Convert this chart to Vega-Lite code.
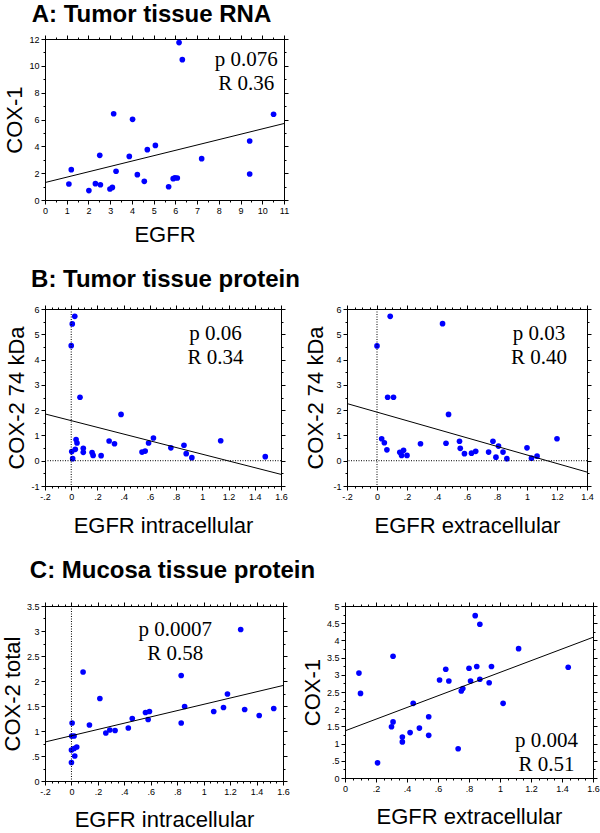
{
  "$schema": "https://vega.github.io/schema/vega-lite/v6.json",
  "background": "white",
  "padding": {"left": 0, "top": 2, "right": 0, "bottom": 0},
  "spacing": 21,
  "config": {
    "view": {"stroke": "black", "strokeWidth": 1},
    "axis": {"grid": false, "domainColor": "black", "domainWidth": 1, "tickColor": "black", "tickWidth": 1,
      "labelFont": "Liberation Sans", "labelFontSize": 9, "labelColor": "black", "labelPadding": 2,
      "labelFlush": false, "labelOverlap": false,
      "titleFont": "Liberation Sans", "titleFontSize": 22, "titleFontWeight": "normal", "titleColor": "black"},
    "axisY": {"titlePadding": 2},
    "title": {"font": "Liberation Sans", "fontSize": 24, "fontWeight": "bold", "color": "black", "anchor": "middle", "frame": "group"}
  },
  "datasets": {
    "a": [
      {"egfr": 1.10, "cox": 1.19}, {"egfr": 1.21, "cox": 2.26}, {"egfr": 2.02, "cox": 0.70}, {"egfr": 2.32, "cox": 1.22},
      {"egfr": 2.55, "cox": 1.14}, {"egfr": 2.52, "cox": 3.33}, {"egfr": 2.99, "cox": 0.82}, {"egfr": 3.10, "cox": 0.94},
      {"egfr": 3.16, "cox": 6.43}, {"egfr": 3.27, "cox": 2.14}, {"egfr": 3.88, "cox": 3.25}, {"egfr": 4.03, "cox": 6.01},
      {"egfr": 4.25, "cox": 1.89}, {"egfr": 4.57, "cox": 1.39}, {"egfr": 4.71, "cox": 3.75}, {"egfr": 5.08, "cox": 4.07},
      {"egfr": 5.69, "cox": 0.99}, {"egfr": 5.90, "cox": 1.59}, {"egfr": 5.98, "cox": 1.66}, {"egfr": 6.09, "cox": 1.64},
      {"egfr": 6.17, "cox": 11.73}, {"egfr": 6.32, "cox": 10.46}, {"egfr": 7.21, "cox": 3.08}, {"egfr": 9.42, "cox": 4.40},
      {"egfr": 9.42, "cox": 1.94}, {"egfr": 10.52, "cox": 6.39}
    ],
    "b1": [
      {"egfr": 0.027, "cox": 5.71}, {"egfr": 0.008, "cox": 5.41}, {"egfr": 0.0, "cox": 4.55}, {"egfr": 0.067, "cox": 2.51},
      {"egfr": 0.38, "cox": 1.83}, {"egfr": 0.037, "cox": 0.84}, {"egfr": 0.044, "cox": 0.70}, {"egfr": 0.031, "cox": 0.45},
      {"egfr": 0.004, "cox": 0.36}, {"egfr": 0.011, "cox": 0.08}, {"egfr": 0.092, "cox": 0.49}, {"egfr": 0.092, "cox": 0.33},
      {"egfr": 0.159, "cox": 0.32}, {"egfr": 0.167, "cox": 0.21}, {"egfr": 0.228, "cox": 0.20}, {"egfr": 0.289, "cox": 0.78},
      {"egfr": 0.33, "cox": 0.67}, {"egfr": 0.54, "cox": 0.34}, {"egfr": 0.564, "cox": 0.38}, {"egfr": 0.59, "cox": 0.70},
      {"egfr": 0.627, "cox": 0.90}, {"egfr": 0.76, "cox": 0.51}, {"egfr": 0.86, "cox": 0.61}, {"egfr": 0.877, "cox": 0.28},
      {"egfr": 0.92, "cox": 0.12}, {"egfr": 1.14, "cox": 0.79}, {"egfr": 1.48, "cox": 0.16}
    ],
    "b2": [
      {"egfr": 0.088, "cox": 5.71}, {"egfr": 0.0, "cox": 4.54}, {"egfr": 0.437, "cox": 5.42}, {"egfr": 0.071, "cox": 2.51},
      {"egfr": 0.11, "cox": 2.51}, {"egfr": 0.477, "cox": 1.83}, {"egfr": 0.031, "cox": 0.87}, {"egfr": 0.049, "cox": 0.71},
      {"egfr": 0.066, "cox": 0.43}, {"egfr": 0.152, "cox": 0.33}, {"egfr": 0.177, "cox": 0.41}, {"egfr": 0.164, "cox": 0.21},
      {"egfr": 0.2, "cox": 0.21}, {"egfr": 0.29, "cox": 0.67}, {"egfr": 0.46, "cox": 0.69}, {"egfr": 0.55, "cox": 0.77},
      {"egfr": 0.555, "cox": 0.49}, {"egfr": 0.583, "cox": 0.28}, {"egfr": 0.63, "cox": 0.30}, {"egfr": 0.658, "cox": 0.37},
      {"egfr": 0.744, "cox": 0.34}, {"egfr": 0.773, "cox": 0.77}, {"egfr": 0.793, "cox": 0.14}, {"egfr": 0.81, "cox": 0.58},
      {"egfr": 0.84, "cox": 0.34}, {"egfr": 0.866, "cox": 0.08}, {"egfr": 1.0, "cox": 0.51}, {"egfr": 1.03, "cox": 0.10},
      {"egfr": 1.067, "cox": 0.18}, {"egfr": 1.2, "cox": 0.87}
    ],
    "c1": [
      {"egfr": 0.005, "cox": 1.16}, {"egfr": 0.002, "cox": 0.90}, {"egfr": 0.02, "cox": 0.90}, {"egfr": 0.0, "cox": 0.62},
      {"egfr": 0.02, "cox": 0.65}, {"egfr": 0.04, "cox": 0.68}, {"egfr": 0.025, "cox": 0.50}, {"egfr": 0.0, "cox": 0.37},
      {"egfr": 0.088, "cox": 2.18}, {"egfr": 0.136, "cox": 1.12}, {"egfr": 0.215, "cox": 1.65}, {"egfr": 0.26, "cox": 0.96},
      {"egfr": 0.29, "cox": 1.02}, {"egfr": 0.33, "cox": 1.01}, {"egfr": 0.43, "cox": 1.06}, {"egfr": 0.46, "cox": 1.25},
      {"egfr": 0.56, "cox": 1.37}, {"egfr": 0.58, "cox": 1.23}, {"egfr": 0.59, "cox": 1.39}, {"egfr": 0.83, "cox": 1.16},
      {"egfr": 0.83, "cox": 2.11}, {"egfr": 0.856, "cox": 1.49}, {"egfr": 1.076, "cox": 1.39}, {"egfr": 1.15, "cox": 1.47},
      {"egfr": 1.18, "cox": 1.74}, {"egfr": 1.28, "cox": 3.03}, {"egfr": 1.31, "cox": 1.43}, {"egfr": 1.42, "cox": 1.31},
      {"egfr": 1.53, "cox": 1.45}
    ],
    "c2": [
      {"egfr": 0.09, "cox": 3.05}, {"egfr": 0.10, "cox": 2.46}, {"egfr": 0.21, "cox": 0.44}, {"egfr": 0.31, "cox": 3.54},
      {"egfr": 0.31, "cox": 1.63}, {"egfr": 0.30, "cox": 1.49}, {"egfr": 0.37, "cox": 1.19}, {"egfr": 0.37, "cox": 1.05},
      {"egfr": 0.42, "cox": 1.32}, {"egfr": 0.44, "cox": 2.17}, {"egfr": 0.48, "cox": 1.45}, {"egfr": 0.54, "cox": 1.78},
      {"egfr": 0.54, "cox": 1.24}, {"egfr": 0.61, "cox": 2.85}, {"egfr": 0.65, "cox": 3.16}, {"egfr": 0.67, "cox": 2.82},
      {"egfr": 0.73, "cox": 0.85}, {"egfr": 0.75, "cox": 2.53}, {"egfr": 0.76, "cox": 2.60}, {"egfr": 0.80, "cox": 3.19},
      {"egfr": 0.81, "cox": 2.82}, {"egfr": 0.84, "cox": 4.72}, {"egfr": 0.85, "cox": 3.24}, {"egfr": 0.87, "cox": 2.87},
      {"egfr": 0.87, "cox": 4.47}, {"egfr": 0.93, "cox": 2.77}, {"egfr": 0.945, "cox": 3.24}, {"egfr": 1.02, "cox": 2.17},
      {"egfr": 1.12, "cox": 3.76}, {"egfr": 1.44, "cox": 3.22}
    ]
  },
  "vconcat": [
    {
      "title": {"text": "A: Tumor tissue RNA", "dx": -13, "offset": 8},
      "width": 239, "height": 161,
      "layer": [
        {
          "data": {"name": "a"},
          "mark": {"type": "circle", "color": "#0000ff", "opacity": 1, "size": 32},
          "encoding": {
            "x": {"field": "egfr", "type": "quantitative", "scale": {"domain": [0, 11], "nice": false, "zero": false},
              "axis": {"orient": "bottom", "title": "EGFR", "titlePadding": 9, "values": [0,0.5,1,1.5,2,2.5,3,3.5,4,4.5,5,5.5,6,6.5,7,7.5,8,8.5,9,9.5,10,10.5,11],
                "labelExpr": "abs(datum.value - round(datum.value)) < 0.001 ? toString(datum.value) : ''",
                "tickSize": {"condition": {"test": "abs(datum.value - round(datum.value)) < 0.001", "value": 4}, "value": 2}}},
            "y": {"field": "cox", "type": "quantitative", "scale": {"domain": [0, 12], "nice": false, "zero": false},
              "axis": {"orient": "left", "title": "COX-1", "values": [0,1,2,3,4,5,6,7,8,9,10,11,12],
                "labelExpr": "abs(datum.value/2 - round(datum.value/2)) < 0.001 ? toString(datum.value) : ''",
                "tickSize": {"condition": {"test": "abs(datum.value/2 - round(datum.value/2)) < 0.001", "value": 4}, "value": 2}}}
          }
        },
        {
          "data": {"values": [{}]},
          "mark": {"type": "text", "font": "Liberation Serif", "fontSize": 21, "lineHeight": 24, "align": "center", "baseline": "middle", "color": "black"},
          "encoding": {
            "x": {"datum": 9.26, "type": "quantitative", "scale": {"domain": [0, 11], "nice": false, "zero": false}, "axis": null},
            "y": {"datum": 10.43, "type": "quantitative", "scale": {"domain": [0, 12], "nice": false, "zero": false}, "axis": null},
            "text": {"value": ["p 0.076", "R 0.36"]}
          }
        },
        {
          "data": {"values": [{"egfr": 0, "cox": 1.3}, {"egfr": 11, "cox": 5.7}]},
          "mark": {"type": "line", "color": "black", "strokeWidth": 1},
          "encoding": {
            "x": {"field": "egfr", "type": "quantitative", "scale": {"domain": [0, 11], "nice": false, "zero": false},
              "axis": {"orient": "top", "title": null, "labels": false, "values": [0,0.5,1,1.5,2,2.5,3,3.5,4,4.5,5,5.5,6,6.5,7,7.5,8,8.5,9,9.5,10,10.5,11],
                "tickSize": {"condition": {"test": "abs(datum.value - round(datum.value)) < 0.001", "value": 4}, "value": 2}}},
            "y": {"field": "cox", "type": "quantitative", "scale": {"domain": [0, 12], "nice": false, "zero": false},
              "axis": {"orient": "right", "title": null, "labels": false, "values": [0,1,2,3,4,5,6,7,8,9,10,11,12],
                "tickSize": {"condition": {"test": "abs(datum.value/2 - round(datum.value/2)) < 0.001", "value": 4}, "value": 2}}}
          }
        }
      ],
      "resolve": {"scale": {"x": "independent", "y": "independent"}}
    },
    {
      "spacing": 66,
      "bounds": "flush",
      "hconcat": [
        {
          "title": {"text": "B: Tumor tissue protein", "dx": 2.5, "offset": 13},
          "width": 236, "height": 177,
          "layer": [
            {
              "data": {"name": "b1"},
              "mark": {"type": "circle", "color": "#0000ff", "opacity": 1, "size": 32},
              "encoding": {
                "x": {"field": "egfr", "type": "quantitative", "scale": {"domain": [-0.2, 1.6], "nice": false, "zero": false},
                  "axis": {"orient": "bottom", "title": "EGFR intracellular", "titlePadding": 14, "values": [-0.2,-0.15,-0.1,-0.05,0,0.05,0.1,0.15,0.2,0.25,0.3,0.35,0.4,0.45,0.5,0.55,0.6,0.65,0.7,0.75,0.8,0.85,0.9,0.95,1,1.05,1.1,1.15,1.2,1.25,1.3,1.35,1.4,1.45,1.5,1.55,1.6],
                    "labelExpr": "abs(datum.value/0.2 - round(datum.value/0.2)) < 0.001 ? (datum.value < 0 ? '-' : '') + replace(toString(abs(datum.value)), '0.', '.') : ''",
                    "tickSize": {"condition": {"test": "abs(datum.value/0.2 - round(datum.value/0.2)) < 0.001", "value": 4}, "value": 2}}},
                "y": {"field": "cox", "type": "quantitative", "scale": {"domain": [-1, 6], "nice": false, "zero": false},
                  "axis": {"orient": "left", "title": "COX-2 74 kDa", "values": [-1,-0.5,0,0.5,1,1.5,2,2.5,3,3.5,4,4.5,5,5.5,6],
                    "labelExpr": "abs(datum.value - round(datum.value)) < 0.001 ? (datum.value < 0 ? '-' : '') + toString(abs(datum.value)) : ''",
                    "tickSize": {"condition": {"test": "abs(datum.value - round(datum.value)) < 0.001", "value": 4}, "value": 2}}}
              }
            },
            {
              "data": {"values": [{}]},
              "mark": {"type": "rule", "color": "black", "strokeWidth": 1, "strokeDash": [1, 1.5]},
              "encoding": {"x": {"datum": 0, "type": "quantitative", "scale": {"domain": [-0.2, 1.6], "nice": false, "zero": false}, "axis": null}}
            },
            {
              "data": {"values": [{}]},
              "mark": {"type": "rule", "color": "black", "strokeWidth": 1, "strokeDash": [1, 1.5]},
              "encoding": {"y": {"datum": 0, "type": "quantitative", "scale": {"domain": [-1, 6], "nice": false, "zero": false}, "axis": null}}
            },
            {
              "data": {"values": [{}]},
              "mark": {"type": "text", "font": "Liberation Serif", "fontSize": 21, "lineHeight": 24, "align": "center", "baseline": "middle", "color": "black"},
              "encoding": {
                "x": {"datum": 1.10, "type": "quantitative", "scale": {"domain": [-0.2, 1.6], "nice": false, "zero": false}, "axis": null},
                "y": {"datum": 5.01, "type": "quantitative", "scale": {"domain": [-1, 6], "nice": false, "zero": false}, "axis": null},
                "text": {"value": ["p 0.06", "R 0.34"]}
              }
            },
            {
              "data": {"values": [{"egfr": -0.2, "cox": 1.85}, {"egfr": 1.6, "cox": -0.54}]},
              "mark": {"type": "line", "color": "black", "strokeWidth": 1},
              "encoding": {
                "x": {"field": "egfr", "type": "quantitative", "scale": {"domain": [-0.2, 1.6], "nice": false, "zero": false},
                  "axis": {"orient": "top", "title": null, "labels": false, "values": [-0.2,-0.15,-0.1,-0.05,0,0.05,0.1,0.15,0.2,0.25,0.3,0.35,0.4,0.45,0.5,0.55,0.6,0.65,0.7,0.75,0.8,0.85,0.9,0.95,1,1.05,1.1,1.15,1.2,1.25,1.3,1.35,1.4,1.45,1.5,1.55,1.6],
                    "tickSize": {"condition": {"test": "abs(datum.value/0.2 - round(datum.value/0.2)) < 0.001", "value": 4}, "value": 2}}},
                "y": {"field": "cox", "type": "quantitative", "scale": {"domain": [-1, 6], "nice": false, "zero": false},
                  "axis": {"orient": "right", "title": null, "labels": false, "values": [-1,-0.5,0,0.5,1,1.5,2,2.5,3,3.5,4,4.5,5,5.5,6],
                    "tickSize": {"condition": {"test": "abs(datum.value - round(datum.value)) < 0.001", "value": 4}, "value": 2}}}
              }
            }
          ],
          "resolve": {"scale": {"x": "independent", "y": "independent"}}
        },
        {
          "width": 240, "height": 177,
          "layer": [
            {
              "data": {"name": "b2"},
              "mark": {"type": "circle", "color": "#0000ff", "opacity": 1, "size": 32},
              "encoding": {
                "x": {"field": "egfr", "type": "quantitative", "scale": {"domain": [-0.2, 1.4], "nice": false, "zero": false},
                  "axis": {"orient": "bottom", "title": "EGFR extracellular", "titlePadding": 14, "values": [-0.2,-0.15,-0.1,-0.05,0,0.05,0.1,0.15,0.2,0.25,0.3,0.35,0.4,0.45,0.5,0.55,0.6,0.65,0.7,0.75,0.8,0.85,0.9,0.95,1,1.05,1.1,1.15,1.2,1.25,1.3,1.35,1.4],
                    "labelExpr": "abs(datum.value/0.2 - round(datum.value/0.2)) < 0.001 ? (datum.value < 0 ? '-' : '') + replace(toString(abs(datum.value)), '0.', '.') : ''",
                    "tickSize": {"condition": {"test": "abs(datum.value/0.2 - round(datum.value/0.2)) < 0.001", "value": 4}, "value": 2}}},
                "y": {"field": "cox", "type": "quantitative", "scale": {"domain": [-1, 6], "nice": false, "zero": false},
                  "axis": {"orient": "left", "title": "COX-2 74 kDa", "titlePadding": 5, "values": [-1,-0.5,0,0.5,1,1.5,2,2.5,3,3.5,4,4.5,5,5.5,6],
                    "labelExpr": "abs(datum.value - round(datum.value)) < 0.001 ? (datum.value < 0 ? '-' : '') + toString(abs(datum.value)) : ''",
                    "tickSize": {"condition": {"test": "abs(datum.value - round(datum.value)) < 0.001", "value": 4}, "value": 2}}}
              }
            },
            {
              "data": {"values": [{}]},
              "mark": {"type": "rule", "color": "black", "strokeWidth": 1, "strokeDash": [1, 1.5]},
              "encoding": {"x": {"datum": 0, "type": "quantitative", "scale": {"domain": [-0.2, 1.4], "nice": false, "zero": false}, "axis": null}}
            },
            {
              "data": {"values": [{}]},
              "mark": {"type": "rule", "color": "black", "strokeWidth": 1, "strokeDash": [1, 1.5]},
              "encoding": {"y": {"datum": 0, "type": "quantitative", "scale": {"domain": [-1, 6], "nice": false, "zero": false}, "axis": null}}
            },
            {
              "data": {"values": [{}]},
              "mark": {"type": "text", "font": "Liberation Serif", "fontSize": 21, "lineHeight": 24, "align": "center", "baseline": "middle", "color": "black"},
              "encoding": {
                "x": {"datum": 1.08, "type": "quantitative", "scale": {"domain": [-0.2, 1.4], "nice": false, "zero": false}, "axis": null},
                "y": {"datum": 5.03, "type": "quantitative", "scale": {"domain": [-1, 6], "nice": false, "zero": false}, "axis": null},
                "text": {"value": ["p 0.03", "R 0.40"]}
              }
            },
            {
              "data": {"values": [{"egfr": -0.2, "cox": 2.26}, {"egfr": 1.4, "cox": -0.45}]},
              "mark": {"type": "line", "color": "black", "strokeWidth": 1},
              "encoding": {
                "x": {"field": "egfr", "type": "quantitative", "scale": {"domain": [-0.2, 1.4], "nice": false, "zero": false},
                  "axis": {"orient": "top", "title": null, "labels": false, "values": [-0.2,-0.15,-0.1,-0.05,0,0.05,0.1,0.15,0.2,0.25,0.3,0.35,0.4,0.45,0.5,0.55,0.6,0.65,0.7,0.75,0.8,0.85,0.9,0.95,1,1.05,1.1,1.15,1.2,1.25,1.3,1.35,1.4],
                    "tickSize": {"condition": {"test": "abs(datum.value/0.2 - round(datum.value/0.2)) < 0.001", "value": 4}, "value": 2}}},
                "y": {"field": "cox", "type": "quantitative", "scale": {"domain": [-1, 6], "nice": false, "zero": false},
                  "axis": {"orient": "right", "title": null, "labels": false, "values": [-1,-0.5,0,0.5,1,1.5,2,2.5,3,3.5,4,4.5,5,5.5,6],
                    "tickSize": {"condition": {"test": "abs(datum.value - round(datum.value)) < 0.001", "value": 4}, "value": 2}}}
              }
            }
          ],
          "resolve": {"scale": {"x": "independent", "y": "independent"}}
        }
      ]
    },
    {
      "spacing": 62,
      "bounds": "flush",
      "hconcat": [
        {
          "title": {"text": "C: Mucosa tissue protein", "dx": 8.5, "offset": 19},
          "width": 238, "height": 175,
          "layer": [
            {
              "data": {"name": "c1"},
              "mark": {"type": "circle", "color": "#0000ff", "opacity": 1, "size": 32},
              "encoding": {
                "x": {"field": "egfr", "type": "quantitative", "scale": {"domain": [-0.2, 1.6], "nice": false, "zero": false},
                  "axis": {"orient": "bottom", "title": "EGFR intracellular", "titlePadding": 13, "values": [-0.2,-0.15,-0.1,-0.05,0,0.05,0.1,0.15,0.2,0.25,0.3,0.35,0.4,0.45,0.5,0.55,0.6,0.65,0.7,0.75,0.8,0.85,0.9,0.95,1,1.05,1.1,1.15,1.2,1.25,1.3,1.35,1.4,1.45,1.5,1.55,1.6],
                    "labelExpr": "abs(datum.value/0.2 - round(datum.value/0.2)) < 0.001 ? (datum.value < 0 ? '-' : '') + replace(toString(abs(datum.value)), '0.', '.') : ''",
                    "tickSize": {"condition": {"test": "abs(datum.value/0.2 - round(datum.value/0.2)) < 0.001", "value": 4}, "value": 2}}},
                "y": {"field": "cox", "type": "quantitative", "scale": {"domain": [0, 3.5], "nice": false, "zero": false},
                  "axis": {"orient": "left", "title": "COX-2 total", "values": [0,0.25,0.5,0.75,1,1.25,1.5,1.75,2,2.25,2.5,2.75,3,3.25,3.5],
                    "labelExpr": "abs(datum.value/0.5 - round(datum.value/0.5)) < 0.001 ? replace(toString(datum.value), '0.', '.') : ''",
                    "tickSize": {"condition": {"test": "abs(datum.value/0.5 - round(datum.value/0.5)) < 0.001", "value": 4}, "value": 2}}}
              }
            },
            {
              "data": {"values": [{}]},
              "mark": {"type": "rule", "color": "black", "strokeWidth": 1, "strokeDash": [1, 1.5]},
              "encoding": {"x": {"datum": 0, "type": "quantitative", "scale": {"domain": [-0.2, 1.6], "nice": false, "zero": false}, "axis": null}}
            },
            {
              "data": {"values": [{}]},
              "mark": {"type": "text", "font": "Liberation Serif", "fontSize": 21, "lineHeight": 24, "align": "center", "baseline": "middle", "color": "black"},
              "encoding": {
                "x": {"datum": 0.785, "type": "quantitative", "scale": {"domain": [-0.2, 1.6], "nice": false, "zero": false}, "axis": null},
                "y": {"datum": 3.03, "type": "quantitative", "scale": {"domain": [0, 3.5], "nice": false, "zero": false}, "axis": null},
                "text": {"value": ["p 0.0007", "R 0.58"]}
              }
            },
            {
              "data": {"values": [{"egfr": -0.2, "cox": 0.78}, {"egfr": 1.6, "cox": 1.91}]},
              "mark": {"type": "line", "color": "black", "strokeWidth": 1},
              "encoding": {
                "x": {"field": "egfr", "type": "quantitative", "scale": {"domain": [-0.2, 1.6], "nice": false, "zero": false},
                  "axis": {"orient": "top", "title": null, "labels": false, "values": [-0.2,-0.15,-0.1,-0.05,0,0.05,0.1,0.15,0.2,0.25,0.3,0.35,0.4,0.45,0.5,0.55,0.6,0.65,0.7,0.75,0.8,0.85,0.9,0.95,1,1.05,1.1,1.15,1.2,1.25,1.3,1.35,1.4,1.45,1.5,1.55,1.6],
                    "tickSize": {"condition": {"test": "abs(datum.value/0.2 - round(datum.value/0.2)) < 0.001", "value": 4}, "value": 2}}},
                "y": {"field": "cox", "type": "quantitative", "scale": {"domain": [0, 3.5], "nice": false, "zero": false},
                  "axis": {"orient": "right", "title": null, "labels": false, "values": [0,0.25,0.5,0.75,1,1.25,1.5,1.75,2,2.25,2.5,2.75,3,3.25,3.5],
                    "tickSize": {"condition": {"test": "abs(datum.value/0.5 - round(datum.value/0.5)) < 0.001", "value": 4}, "value": 2}}}
              }
            }
          ],
          "resolve": {"scale": {"x": "independent", "y": "independent"}}
        },
        {
          "width": 248, "height": 172,
          "layer": [
            {
              "data": {"name": "c2"},
              "mark": {"type": "circle", "color": "#0000ff", "opacity": 1, "size": 32},
              "encoding": {
                "x": {"field": "egfr", "type": "quantitative", "scale": {"domain": [0, 1.6], "nice": false, "zero": false},
                  "axis": {"orient": "bottom", "title": "EGFR extracellular", "titlePadding": 13, "values": [0,0.05,0.1,0.15,0.2,0.25,0.3,0.35,0.4,0.45,0.5,0.55,0.6,0.65,0.7,0.75,0.8,0.85,0.9,0.95,1,1.05,1.1,1.15,1.2,1.25,1.3,1.35,1.4,1.45,1.5,1.55,1.6],
                    "labelExpr": "abs(datum.value/0.2 - round(datum.value/0.2)) < 0.001 ? replace(toString(datum.value), '0.', '.') : ''",
                    "tickSize": {"condition": {"test": "abs(datum.value/0.2 - round(datum.value/0.2)) < 0.001", "value": 4}, "value": 2}}},
                "y": {"field": "cox", "type": "quantitative", "scale": {"domain": [0, 5], "nice": false, "zero": false},
                  "axis": {"orient": "left", "title": "COX-1", "values": [0,0.25,0.5,0.75,1,1.25,1.5,1.75,2,2.25,2.5,2.75,3,3.25,3.5,3.75,4,4.25,4.5,4.75,5],
                    "labelExpr": "abs(datum.value/0.5 - round(datum.value/0.5)) < 0.001 ? replace(toString(datum.value), '0.', '.') : ''",
                    "tickSize": {"condition": {"test": "abs(datum.value/0.5 - round(datum.value/0.5)) < 0.001", "value": 4}, "value": 2}}}
              }
            },
            {
              "data": {"values": [{}]},
              "mark": {"type": "text", "font": "Liberation Serif", "fontSize": 21, "lineHeight": 24, "align": "center", "baseline": "middle", "color": "black"},
              "encoding": {
                "x": {"datum": 1.30, "type": "quantitative", "scale": {"domain": [0, 1.6], "nice": false, "zero": false}, "axis": null},
                "y": {"datum": 1.07, "type": "quantitative", "scale": {"domain": [0, 5], "nice": false, "zero": false}, "axis": null},
                "text": {"value": ["p 0.004", "R 0.51"]}
              }
            },
            {
              "data": {"values": [{"egfr": 0, "cox": 1.37}, {"egfr": 1.6, "cox": 4.09}]},
              "mark": {"type": "line", "color": "black", "strokeWidth": 1},
              "encoding": {
                "x": {"field": "egfr", "type": "quantitative", "scale": {"domain": [0, 1.6], "nice": false, "zero": false},
                  "axis": {"orient": "top", "title": null, "labels": false, "values": [0,0.05,0.1,0.15,0.2,0.25,0.3,0.35,0.4,0.45,0.5,0.55,0.6,0.65,0.7,0.75,0.8,0.85,0.9,0.95,1,1.05,1.1,1.15,1.2,1.25,1.3,1.35,1.4,1.45,1.5,1.55,1.6],
                    "tickSize": {"condition": {"test": "abs(datum.value/0.2 - round(datum.value/0.2)) < 0.001", "value": 4}, "value": 2}}},
                "y": {"field": "cox", "type": "quantitative", "scale": {"domain": [0, 5], "nice": false, "zero": false},
                  "axis": {"orient": "right", "title": null, "labels": false, "values": [0,0.25,0.5,0.75,1,1.25,1.5,1.75,2,2.25,2.5,2.75,3,3.25,3.5,3.75,4,4.25,4.5,4.75,5],
                    "tickSize": {"condition": {"test": "abs(datum.value/0.5 - round(datum.value/0.5)) < 0.001", "value": 4}, "value": 2}}}
              }
            }
          ],
          "resolve": {"scale": {"x": "independent", "y": "independent"}}
        }
      ]
    }
  ]
}
